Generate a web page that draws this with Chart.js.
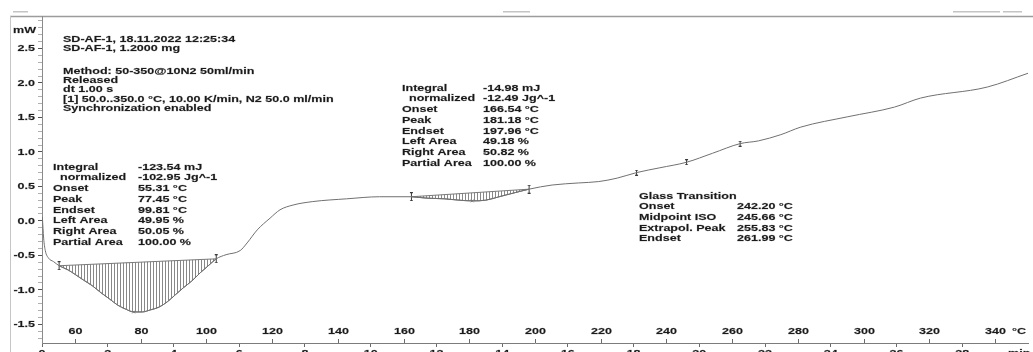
<!DOCTYPE html>
<html>
<head>
<meta charset="utf-8">
<script src="https://cdn.jsdelivr.net/npm/chart.js@4.4.0/dist/chart.umd.min.js"></script>
<style>
html, body { margin: 0; padding: 0; background: #fff; overflow: hidden; }
</style>
</head>
<body>
<canvas id="dsc" width="1033" height="352"></canvas>
<script>
// DSC curve, heat flow (mW) against sample temperature (°C)
const tempC = [50.1, 50.5, 51.0, 52.0, 53.5, 55.2, 57.9, 60.2, 62.7, 65.3, 67.9, 70.5, 73.0, 75.5, 77.9,
  80.5, 83.0, 85.6, 88.2, 90.6, 93.0, 95.6, 98.2, 100.6, 103.0, 106.0, 110.3, 112.4, 115.5, 119.4,
  122.4, 126.4, 132.4, 142.7, 152.7, 162.4, 167.0, 172.4, 177.0, 180.9, 185.0, 189.1, 194.0, 198.2,
  205.2, 213.3, 219.4, 225.0, 230.9, 238.0, 246.1, 254.0, 262.4, 268.0, 274.8, 280.9, 295.2, 309.4,
  317.3, 337.6, 350.0];
const heatFlow = [0.06, -0.25, -0.43, -0.54, -0.59, -0.65, -0.71, -0.78, -0.86, -0.94, -1.04, -1.13, -1.22, -1.28, -1.32,
  -1.32, -1.29, -1.25, -1.17, -1.07, -0.97, -0.87, -0.75, -0.65, -0.55, -0.49, -0.43, -0.32, -0.13, 0.04,
  0.16, 0.23, 0.28, 0.32, 0.35, 0.35, 0.33, 0.32, 0.30, 0.29, 0.30, 0.35, 0.41, 0.46,
  0.52, 0.55, 0.57, 0.62, 0.70, 0.77, 0.85, 0.98, 1.12, 1.16, 1.25, 1.36, 1.51, 1.65,
  1.78, 1.94, 2.14];

// integration baselines of the two peaks
const peak1BaseT = [55.2, 103.0];
const peak1BaseMW = [-0.65, -0.55];
const peak2BaseT = [162.4, 198.2];
const peak2BaseMW = [0.35, 0.46];

// evaluation markers
const limitT = [55.2, 103.0, 162.4, 198.2];
const limitMW = [-0.65, -0.55, 0.35, 0.46];
const glassT = [230.9, 246.1, 262.4];
const glassMW = [0.70, 0.85, 1.12];
const peakT = [77.9, 180.9];
const peakMW = [-1.32, 0.29];

// axes
const startTemp = 50;
const heatingRate = 10; // K/min
const yTickLabels = ['2.5', '2.0', '1.5', '1.0', '0.5', '0.0', '-0.5', '-1.0', '-1.5'];
const tempTickLabels = [60, 80, 100, 120, 140, 160, 180, 200, 220, 240, 260, 280, 300, 320, 340];
const timeTickLabels = [0, 2, 4, 6, 8, 10, 12, 14, 16, 18, 20, 22, 24, 26, 28];

// evaluation texts
const runLines = ['SD-AF-1, 18.11.2022 12:25:34', 'SD-AF-1, 1.2000 mg'];
const methodLines = ['Method: 50-350@10N2 50ml/min', 'Released', 'dt 1.00 s',
  '[1] 50.0..350.0 °C, 10.00 K/min, N2 50.0 ml/min', 'Synchronization enabled'];
const peakNames = ['Integral', '  normalized', 'Onset', 'Peak', 'Endset', 'Left Area', 'Right Area', 'Partial Area'];
const peak1Values = ['-123.54 mJ', '-102.95 Jg^-1', '55.31 °C', '77.45 °C', '99.81 °C', '49.95 %', '50.05 %', '100.00 %'];
const peak2Values = ['-14.98 mJ', '-12.49 Jg^-1', '166.54 °C', '181.18 °C', '197.96 °C', '49.18 %', '50.82 %', '100.00 %'];
const glassNames = ['Glass Transition', 'Onset', 'Midpoint ISO', 'Extrapol. Peak', 'Endset'];
const glassValues = ['', '242.20 °C', '245.66 °C', '255.83 °C', '261.99 °C'];


const canvas = document.getElementById('dsc');
const FONT = 'bold 9.5px "Liberation Sans", Arial, sans-serif';
const SX = 1.32; // the printout is stretched sideways

function pts(xs, ys) {
  return xs.map((x, i) => ({ x: x, y: ys[i] }));
}

function between(lo, hi) {
  const xs = [], ys = [];
  tempC.forEach((t, i) => {
    if (t >= lo && t <= hi) { xs.push(t); ys.push(heatFlow[i]); }
  });
  return pts(xs, ys);
}

function ibeam(h) {
  const c = document.createElement('canvas');
  c.width = 5; c.height = h;
  const g = c.getContext('2d');
  g.fillStyle = '#3a3a3a';
  g.fillRect(2, 0, 1, h);
  g.fillRect(1, 0, 3, 1);
  g.fillRect(1, h - 1, 3, 1);
  return c;
}

function hatch() {
  const c = document.createElement('canvas');
  c.width = 3; c.height = 4;
  const g = c.getContext('2d');
  g.fillStyle = '#888';
  g.fillRect(0, 0, 1, 4);
  return canvas.getContext('2d').createPattern(c, 'repeat');
}

function label(ctx, s, x, y, align) {
  ctx.save();
  ctx.translate(x, y);
  ctx.scale(SX, 1);
  ctx.textAlign = align || 'left';
  ctx.strokeText(s, 0, 0); // thickens the glyphs a little, like the scanned print
  ctx.fillText(s, 0, 0);
  ctx.restore();
}

function block(ctx, names, values, x1, x2, y0, lh) {
  names.forEach((n, i) => {
    label(ctx, n, x1, y0 + i * lh);
    if (values) label(ctx, values[i], x2, y0 + i * lh);
  });
}

const decorations = {
  id: 'decorations',
  beforeDraw(chart) {
    const ctx = chart.ctx;
    ctx.save();
    ctx.strokeStyle = '#9c9c9c';
    ctx.lineWidth = 1.5;
    ctx.beginPath(); ctx.moveTo(10, 16.5); ctx.lineTo(1033, 16.5); ctx.stroke();
    ctx.strokeStyle = '#c6c6c6';
    ctx.lineWidth = 1;
    ctx.beginPath(); ctx.moveTo(10.5, 16); ctx.lineTo(10.5, 352); ctx.stroke();
    // cut-off page header
    ctx.fillStyle = '#c4c4c4';
    [[13, 15], [503, 27], [953, 47], [1003, 19]].forEach(r => ctx.fillRect(r[0], 11, r[1], 1.5));
    ctx.restore();
  },
  afterDraw(chart) {
    const ctx = chart.ctx;
    const a = chart.chartArea;
    const x = chart.scales.x, y = chart.scales.y;
    ctx.save();
    ctx.font = FONT;
    ctx.fillStyle = '#1a1a1a';
    ctx.strokeStyle = 'rgba(40,40,40,0.45)';
    ctx.lineWidth = 0.35;
    ctx.textBaseline = 'middle';

    yTickLabels.forEach(v => label(ctx, v, a.left - 7, y.getPixelForValue(Number(v)), 'right'));
    label(ctx, 'mW', a.left - 6, 30, 'right');

    tempTickLabels.forEach(t => {
      const px = Math.round(x.getPixelForValue(t)) + 0.5;
      ctx.save();
      ctx.strokeStyle = '#6a6a6a';
      ctx.lineWidth = 1;
      ctx.beginPath(); ctx.moveTo(px, a.bottom - 4); ctx.lineTo(px, a.bottom); ctx.stroke();
      ctx.restore();
      label(ctx, String(t), px, a.bottom - 12, 'center');
    });
    label(ctx, '°C', a.right - 9, a.bottom - 12, 'center');
    timeTickLabels.forEach(m => {
      label(ctx, String(m), x.getPixelForValue(startTemp + heatingRate * m), a.bottom + 10, 'center');
    });
    label(ctx, 'min', a.right - 20, a.bottom + 10, 'left');

    block(ctx, runLines, null, 63, 0, 39, 9.6);
    block(ctx, methodLines, null, 63, 0, 71, 9.3);
    block(ctx, peakNames, peak1Values, 53, 138, 167, 10.75);
    block(ctx, peakNames, peak2Values, 402, 483, 88, 10.75);
    block(ctx, glassNames, glassValues, 639, 737, 196, 10.7);
    ctx.restore();
  }
};

const lineCol = '#707070';
const pattern = hatch();

new Chart(canvas, {
  type: 'line',
  data: {
    datasets: [
      {
        data: pts(tempC, heatFlow),
        borderColor: lineCol, borderWidth: 1, pointRadius: 0,
        cubicInterpolationMode: 'monotone'
      },
      {
        data: pts(peak1BaseT, peak1BaseMW),
        borderColor: '#7a7a7a', borderWidth: 1, pointRadius: 0
      },
      {
        data: between(peak1BaseT[0], peak1BaseT[1]),
        borderColor: lineCol, borderWidth: 1, pointRadius: 0,
        cubicInterpolationMode: 'monotone',
        fill: 1, backgroundColor: pattern
      },
      {
        data: pts(peak2BaseT, peak2BaseMW),
        borderColor: '#7a7a7a', borderWidth: 1, pointRadius: 0
      },
      {
        data: between(peak2BaseT[0], peak2BaseT[1]),
        borderColor: lineCol, borderWidth: 1, pointRadius: 0,
        cubicInterpolationMode: 'monotone',
        fill: 3, backgroundColor: pattern
      },
      {
        data: pts(limitT, limitMW), showLine: false,
        pointStyle: ibeam(9), pointRadius: 4
      },
      {
        data: pts(glassT, glassMW), showLine: false,
        pointStyle: ibeam(6), pointRadius: 3
      },
      {
        data: pts(peakT, peakMW), showLine: false,
        pointStyle: 'crossRot', pointRadius: 2, borderColor: '#8a8a8a', borderWidth: 1
      }
    ]
  },
  options: {
    responsive: false,
    animation: false,
    events: [],
    layout: { padding: { top: 16, right: 2, left: 0, bottom: 0 } },
    plugins: { legend: { display: false }, tooltip: { enabled: false } },
    scales: {
      x: {
        type: 'linear', min: 50, max: 350,
        border: { color: '#7c7c7c', width: 1 },
        grid: { drawOnChartArea: false, drawTicks: true, tickLength: 4, tickColor: '#6a6a6a' },
        ticks: { display: false },
        afterBuildTicks: s => { s.ticks = timeTickLabels.map(m => ({ value: startTemp + heatingRate * m })); },
        afterFit: s => { s.height = 9; }
      },
      y: {
        type: 'linear', min: -1.77, max: 2.97,
        border: { color: '#8a8a8a', width: 1 },
        grid: {
          drawOnChartArea: false, drawTicks: true, tickLength: 4,
          tickColor: c => Math.abs(c.tick.value * 2 - Math.round(c.tick.value * 2)) < 1e-6 ? '#555' : '#b0b0b0'
        },
        ticks: { display: false },
        afterBuildTicks: s => {
          const t = [];
          for (let i = -17; i <= 29; i++) t.push({ value: i / 10 });
          s.ticks = t;
        },
        afterFit: s => { s.width = 42; }
      }
    }
  },
  plugins: [decorations]
});
</script>
</body>
</html>
